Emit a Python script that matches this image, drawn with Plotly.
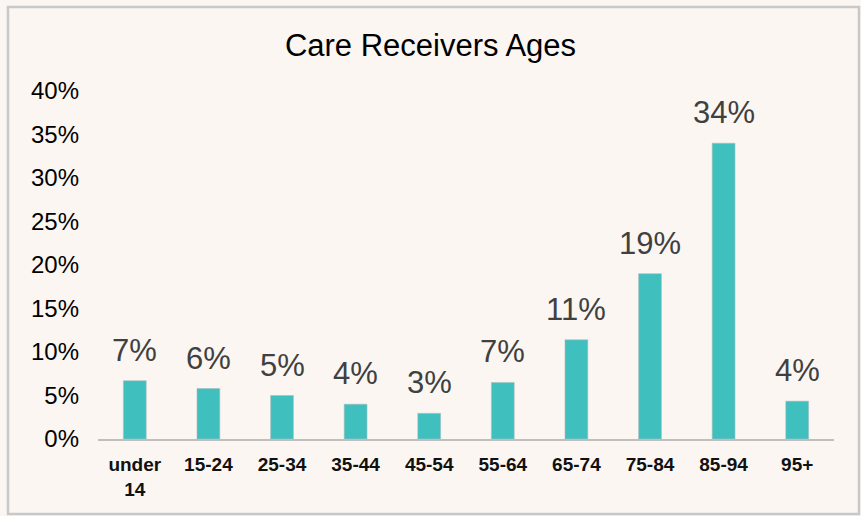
import plotly.graph_objects as go

age_groups = ["under<br>14", "15-24", "25-34", "35-44", "45-54",
              "55-64", "65-74", "75-84", "85-94", "95+"]
share = [0.067, 0.058, 0.050, 0.040, 0.0295, 0.065, 0.114, 0.190, 0.340, 0.0435]
share_labels = ["7%", "6%", "5%", "4%", "3%", "7%", "11%", "19%", "34%", "4%"]
y_ticks = [0, 0.05, 0.10, 0.15, 0.20, 0.25, 0.30, 0.35, 0.40]

W, H = 861, 516
bg = "#FBF6F2"

fig = go.Figure(go.Bar(
    x=age_groups,
    y=share,
    cliponaxis=False,
    marker=dict(color="#40BFBF", line=dict(color="#A9BDBD", width=0.6)),
))

# data labels sit a bit higher above the bars than plotly's outside text
for cat, val, lab in zip(age_groups, share, share_labels):
    fig.add_annotation(x=cat, y=val, text=lab, showarrow=False,
                       yanchor="bottom", yshift=11,
                       font=dict(family="Liberation Sans, Arial", size=31, color="#404040"))

fig.update_layout(
    width=W, height=H,
    paper_bgcolor=bg, plot_bgcolor=bg,
    margin=dict(l=98, r=27, t=91, b=77),
    bargap=0.69,
    showlegend=False,
    title=dict(text="Care Receivers Ages", x=0.5, xanchor="center",
               y=1 - 45 / H, yanchor="middle",
               font=dict(family="Liberation Sans, Arial", size=31, color="#000000")),
    font=dict(family="Liberation Sans, Arial"),
)

fig.update_yaxes(
    range=[0, 0.40], tickvals=y_ticks, tickformat=".0%",
    showgrid=False, zeroline=False, showline=False,
    ticks="", ticklabelstandoff=18,
    tickfont=dict(size=24, color="#000000"),
)
fig.update_xaxes(
    showgrid=False, showline=True, linecolor="#BFBFBF", linewidth=2,
    ticks="", tickfont=dict(size=19, color="#111111", family="Liberation Sans, Arial"),
    ticklabelstandoff=7,
    tickprefix="<b>", ticksuffix="</b>",
)

# outer frame
fig.add_shape(type="rect", xref="paper", yref="paper",
              x0=(8 - 98) / (W - 98 - 27), x1=(859 - 98) / (W - 98 - 27),
              y0=(439 - 514) / (439 - 91), y1=(439 - 7) / (439 - 91),
              line=dict(color="#C8C8C8", width=2.5), layer="below")

fig.write_html("out.html", config={"displayModeBar": False},
               post_script="document.body.style.margin='0';")
